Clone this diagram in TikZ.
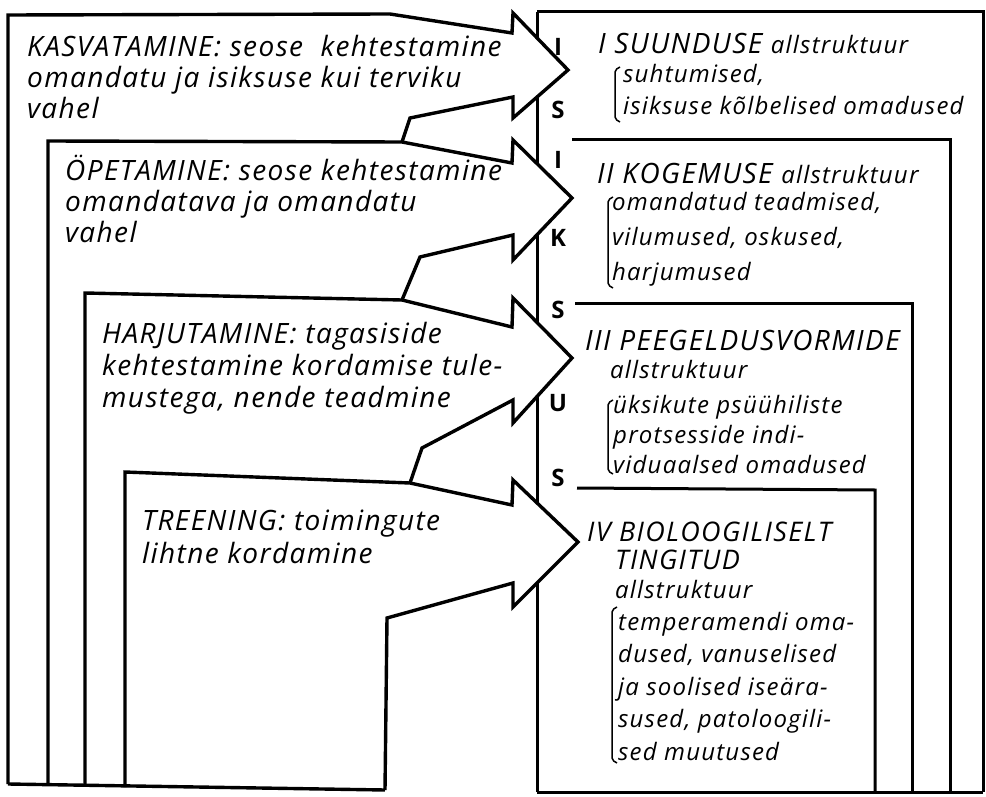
\documentclass[tikz,border=0pt]{standalone}
\usepackage{fontspec}
\setmainfont{Open Sans}[LetterSpace=5]
\newcommand\leftsz{\fontsize{28}{31}\selectfont}
\newcommand\capsz{\fontsize{28}{31}\selectfont}
\newcommand\subsz{\fontsize{24}{32}\selectfont}
\newcommand\lettsz{\fontsize{24}{24}\selectfont}
\tikzset{
  edge/.style={line width=3.4pt,line join=miter,miter limit=10},
  rbox/.style={line width=3pt},
  brk/.style={line width=1.5pt,rounded corners=2pt},
  ltxt/.style={anchor=base west,align=left,inner sep=0pt,font=\leftsz\itshape},
  htxt/.style={anchor=base west,align=left,inner sep=0pt,font=\capsz\itshape},
  rtxt/.style={anchor=base west,align=left,inner sep=0pt,font=\subsz\itshape},
  lettr/.style={inner sep=0pt,font=\lettsz\bfseries}
}
\begin{document}
\begin{tikzpicture}[x=1pt,y=-1pt]
  \useasboundingbox (0,0) rectangle (986,797);
  % right column: common edge and nested boxes
  \draw[rbox] (537,12) -- (537,792);
  \draw[rbox] (537,12) -- (983,12) -- (983,792);
  \draw[rbox] (572,140) -- (950,140) -- (950,792);
  \draw[rbox] (575,303) -- (912,303) -- (912,792);
  \draw[rbox] (577,488) -- (875,490) -- (875,792);
  \draw[rbox] (537,792) -- (983,792);
  % arrow heads cover the common edge
  \fill[white] (513,13) -- (568,70) -- (513,118) -- cycle;
  \fill[white] (513,140) -- (572,198) -- (513,260) -- cycle;
  \fill[white] (513,298) -- (572,358) -- (513,423) -- cycle;
  \fill[white] (513,480) -- (578,542) -- (513,607) -- cycle;
  % left column: four nested arrows
  \draw[edge] (8,784) -- (8,15) -- (390,14) -- (512,33) -- (513,13) -- (568,70)
    -- (513,118) -- (513,97) -- (410,118) -- (402,142);
  \draw[edge] (48,785) -- (48,141) -- (402,142) -- (512,163) -- (513,140) -- (572,198)
    -- (513,260) -- (513,235) -- (420,257) -- (402,300);
  \draw[edge] (85,786) -- (85,293) -- (402,300) -- (512,327) -- (513,298) -- (572,358)
    -- (513,423) -- (513,400) -- (422,448) -- (410,483);
  \draw[edge] (125,787) -- (125,472) -- (410,483) -- (512,505) -- (513,480) -- (578,542)
    -- (513,607) -- (513,583) -- (387,618) -- (385,790);
  \draw[edge] (8,784) -- (385,790);

  % left texts (placed at the baseline of their last line)
  \node[ltxt] (kasv) at (27,119) {KASVATAMINE: seose\ \ kehtestamine\\omandatu ja isiksuse kui terviku\\vahel};
  \node[ltxt] (opet) at (65,242) {ÖPETAMINE: seose kehtestamine\\omandatava ja omandatu\\vahel};
  \node[ltxt,font=\fontsize{28}{32}\selectfont\itshape] (harj) at (102,407) {HARJUTAMINE: tagasiside\\kehtestamine kordamise tule-\\mustega, nende teadmine};
  \node[ltxt,font=\fontsize{28}{33}\selectfont\itshape] (treen) at (142,563) {TREENING: toimingute\\lihtne kordamine};

  % letters on the common edge
  \foreach \ch/\yy [count=\i] in {I/47,S/110,I/160,K/238,S/310,U/403,S/478}
    \node[lettr] (let\i) at (558,\yy) {\ch};

  % right texts
  \node[htxt] (suund) at (598,54) {I SUUNDUSE {\subsz allstruktuur}};
  \node[rtxt] (suundl) at (623,115) {suhtumised,\\isiksuse kõlbelised omadused};
  \draw[brk] (620,67) -- (615,70) -- (615,119) -- (620,122);

  \node[htxt] (kogem) at (597,183) {II KOGEMUSE {\subsz allstruktuur}};
  \node[rtxt,font=\fontsize{24}{35}\selectfont\itshape] (kogeml) at (612,280) {omandatud teadmised,\\vilumused, oskused,\\harjumused};
  \draw[brk] (613,197) -- (608,200) -- (608,285) -- (613,288);

  \node[htxt] (peeg) at (585,350) {III PEEGELDUSVORMIDE};
  \node[rtxt] (peegs) at (610,378) {allstruktuur};
  \node[rtxt,font=\fontsize{24}{30}\selectfont\itshape] (peegl) at (613,473) {üksikute psüühiliste\\protsesside indi-\\viduaalsed omadused};
  \draw[brk] (613,400) -- (608,403) -- (608,471) -- (613,474);

  \node[htxt,font=\fontsize{27}{27}\selectfont\itshape] (bio) at (587,541) {IV BIOLOOGILISELT};
  \node[htxt,font=\fontsize{27}{27}\selectfont\itshape] (bio2) at (615,569) {TINGITUD};
  \node[rtxt] (bios) at (615,598) {allstruktuur};
  \node[rtxt,font=\fontsize{24}{32.5}\selectfont\itshape] (biol) at (618,760) {temperamendi oma-\\dused, vanuselised\\ja soolised iseära-\\sused, patoloogili-\\sed muutused};
  \draw[brk] (617,607) -- (612,610) -- (612,760) -- (617,763);
\end{tikzpicture}
\end{document}
